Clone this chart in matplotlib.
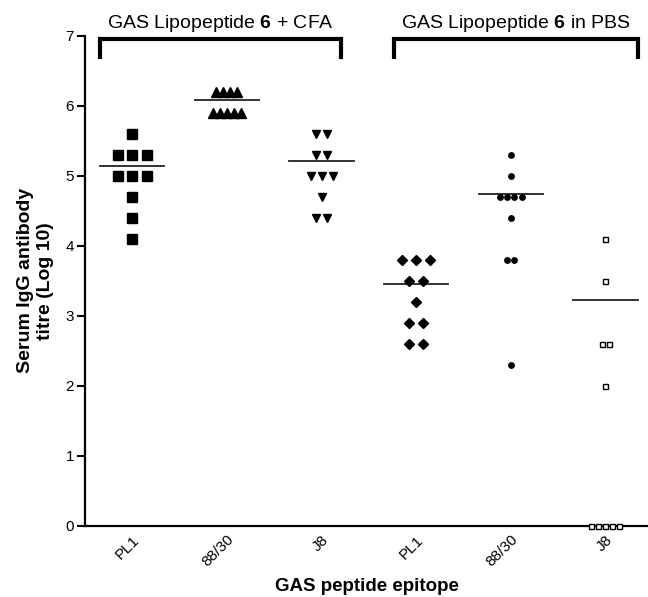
import matplotlib

matplotlib.use("Agg")
import matplotlib.pyplot as plt
import numpy as np

# serum IgG titres (log10) per mouse
categories = ["PL1", "88/30", "J8", "PL1", "88/30", "J8"]
pl1_cfa = [5.6, 5.3, 5.3, 5.3, 5.0, 5.0, 5.0, 4.7, 4.4, 4.1]
p8830_cfa = [6.2, 6.2, 6.2, 6.2, 5.9, 5.9, 5.9, 5.9, 5.9]
j8_cfa = [5.6, 5.6, 5.3, 5.3, 5.0, 5.0, 5.0, 4.7, 4.4, 4.4]
pl1_pbs = [3.8, 3.8, 3.8, 3.5, 3.5, 3.2, 2.9, 2.9, 2.6, 2.6]
p8830_pbs = [5.3, 5.0, 4.7, 4.7, 4.7, 4.7, 4.4, 3.8, 3.8, 2.3]
j8_pbs = [4.1, 3.5, 2.6, 2.6, 2.0, 0.0, 0.0, 0.0, 0.0, 0.0]
group_means = [5.14, 6.08, 5.21, 3.46, 4.74, 3.22]
group_titles = ["GAS Lipopeptide $\\mathbf{6}$ + CFA", "GAS Lipopeptide $\\mathbf{6}$ in PBS"]

plt.rcParams["font.family"] = ["Liberation Sans", "DejaVu Sans"]
plt.rcParams["mathtext.fontset"] = "custom"
plt.rcParams["mathtext.rm"] = "Liberation Sans"
plt.rcParams["mathtext.bf"] = "Liberation Sans:bold"


def spread(values, step):
    """Scatter-dot layout: points sharing a value are placed side by side."""
    values = np.asarray(values, dtype=float)
    offsets = np.zeros_like(values)
    for v in np.unique(values):
        idx = np.where(values == v)[0]
        offsets[idx] = (np.arange(len(idx)) - (len(idx) - 1) / 2) * step
    return offsets


series = [pl1_cfa, p8830_cfa, j8_cfa, pl1_pbs, p8830_pbs, j8_pbs]
styles = [
    dict(marker="s", ms=7.3, mfc="black", mec="black", step=0.153),
    dict(marker="^", ms=6.6, mfc="black", mec="black", step=0.074),
    dict(marker="v", ms=6.0, mfc="black", mec="black", step=0.116),
    dict(marker="D", ms=4.6, mfc="black", mec="black", step=0.148),
    dict(marker="o", ms=3.9, mfc="black", mec="black", step=0.077),
    dict(marker="s", ms=3.6, mfc="white", mec="black", step=0.074),
]

fig = plt.figure(figsize=(6.48, 5.97), dpi=100)
ax = fig.add_axes([0.1312, 0.1194, 0.8688, 0.8208])

for i, (vals, st) in enumerate(zip(series, styles)):
    pos = i + 1
    x = pos + spread(vals, st["step"])
    ax.plot(x, vals, linestyle="none", marker=st["marker"], ms=st["ms"],
            mfc=st["mfc"], mec=st["mec"], mew=1.0, clip_on=False, zorder=4)
    ax.plot([pos - 0.34, pos + 0.34], [group_means[i], group_means[i]],
            color="#222222", lw=1.3, zorder=3)

ax.set_xlim(0.5, 6.45)
ax.set_ylim(0, 7)
ax.set_yticks(range(0, 8))
ax.set_xticks(range(1, 7))
ax.set_xticklabels(categories, rotation=45, ha="right", va="top",
                   rotation_mode="anchor", fontsize=11)
ax.tick_params(axis="x", length=0, pad=5)
ax.tick_params(axis="y", length=6, width=1.5, labelsize=11, pad=2)
for side in ("top", "right"):
    ax.spines[side].set_visible(False)
for side in ("left", "bottom"):
    ax.spines[side].set_linewidth(1.6)

ax.set_ylabel("Serum IgG antibody\ntitre (Log 10)", fontsize=14, fontweight="bold",
              labelpad=8, linespacing=1.25)
ax.set_xlabel("GAS peptide epitope", fontsize=13.5, fontweight="bold", labelpad=6)

# group brackets above the plot
brackets = [(0.66, 3.21), (3.77, 6.34)]
for (x0, x1), title in zip(brackets, group_titles):
    ax.plot([x0, x0, x1, x1], [6.69, 6.95, 6.95, 6.69], color="black", lw=3,
            solid_joinstyle="miter", clip_on=False)
    ax.text((x0 + x1) / 2, 7.18, title, ha="center", va="center", fontsize=14)

fig.savefig("out.png", dpi=100)
